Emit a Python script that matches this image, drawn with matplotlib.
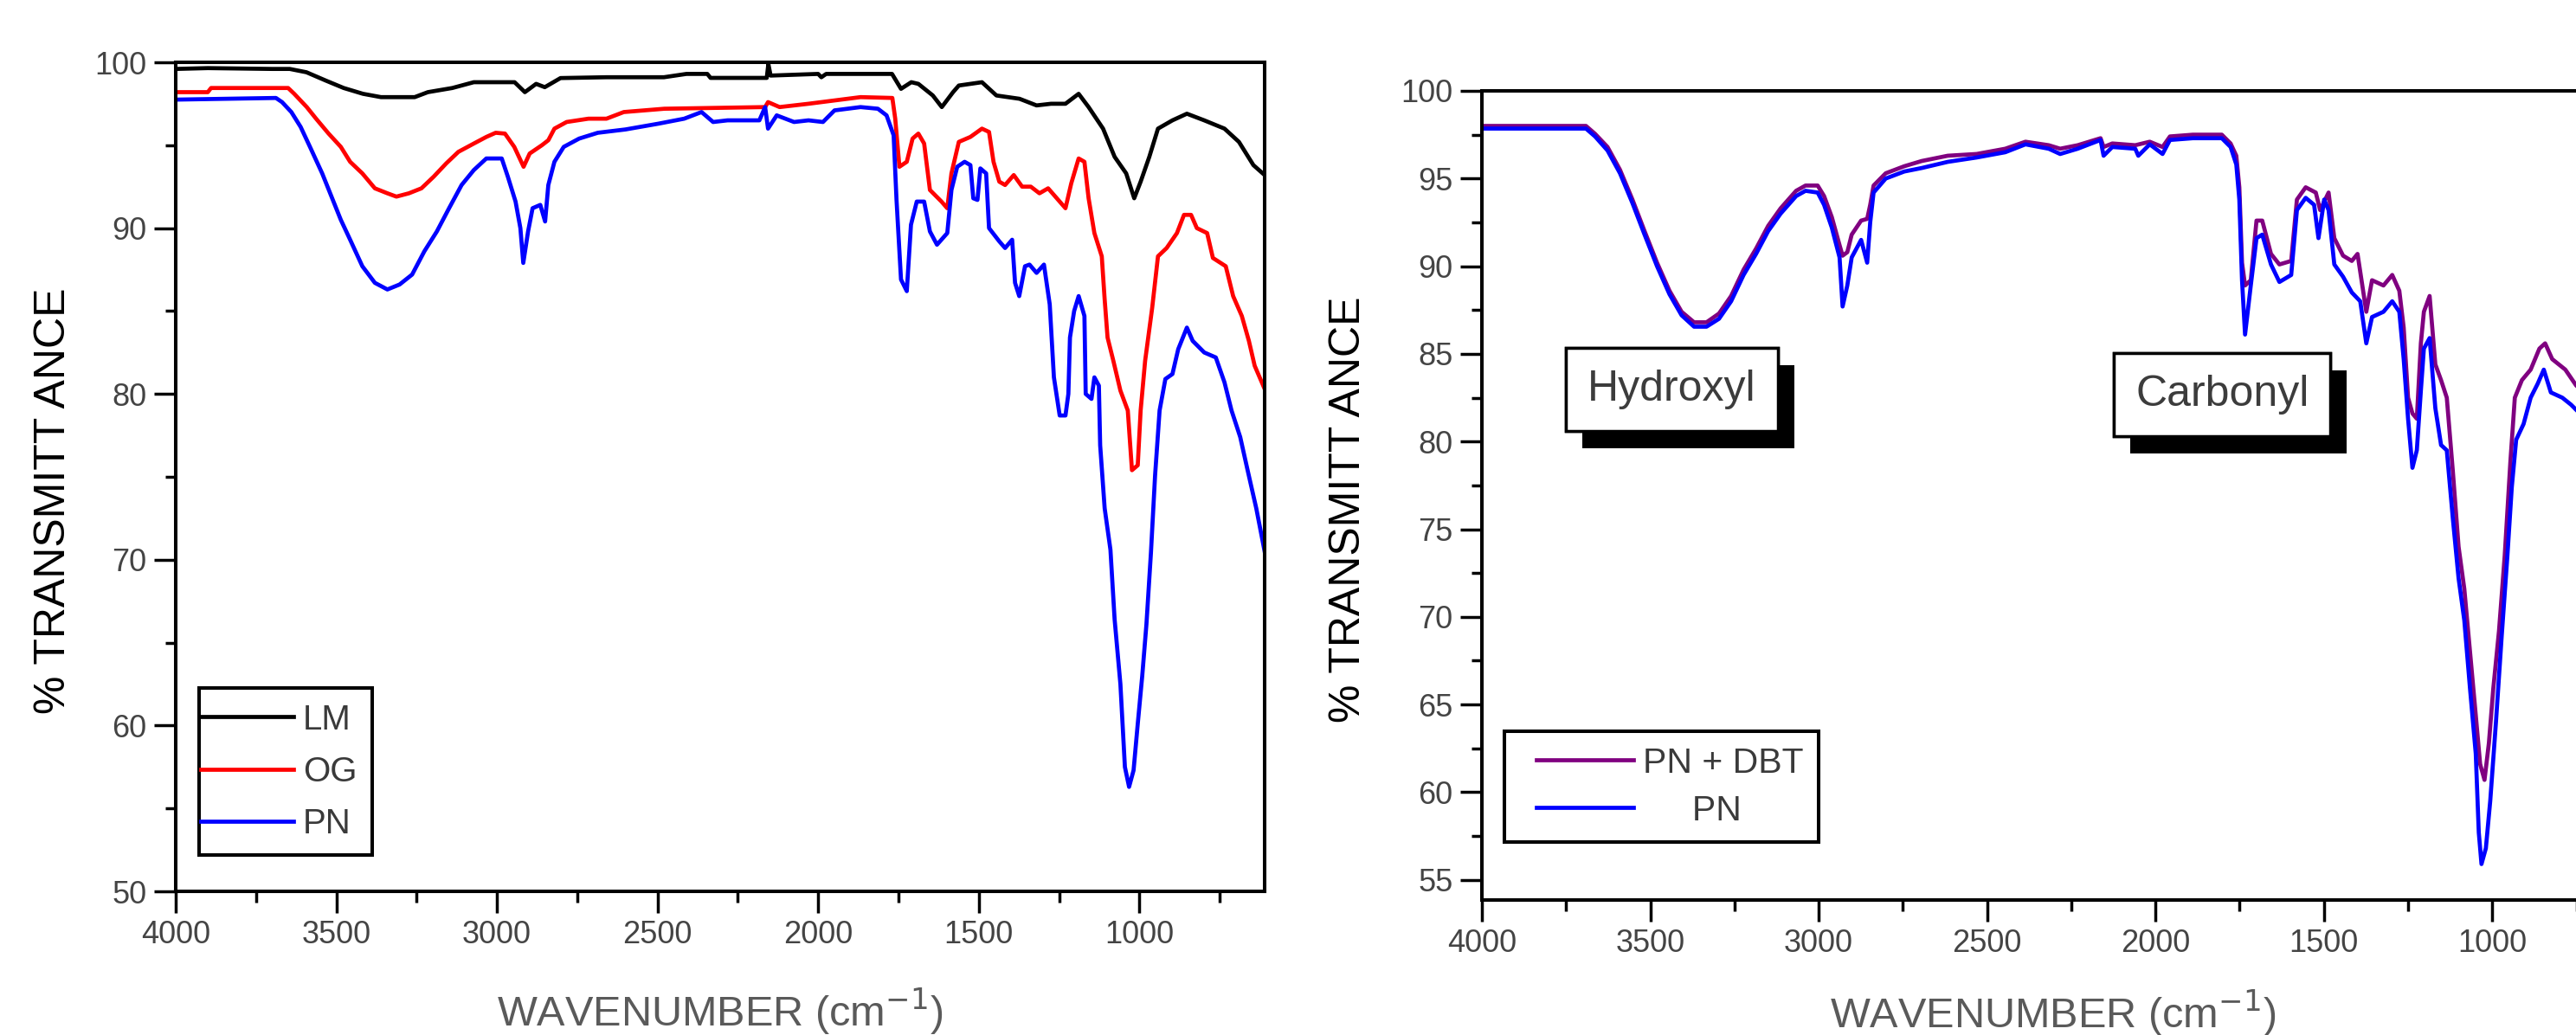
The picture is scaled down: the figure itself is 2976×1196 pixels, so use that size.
import matplotlib
matplotlib.use("Agg")
import matplotlib.pyplot as plt
import matplotlib.patheffects as pe
from matplotlib import font_manager
from matplotlib.legend_handler import HandlerLine2D
from matplotlib.ticker import MultipleLocator

# ---------------- spectra: left panel (LM, OG, PN) ----------------
wn_lm = [4000, 3900, 3700, 3645, 3593, 3533, 3477, 3417, 3361, 3256, 3215, 3139, 3072,
         2945, 2913, 2878, 2851, 2802, 2659, 2480, 2410, 2345, 2335, 2160, 2155, 2148,
         2000, 1990, 1975, 1770, 1742, 1710, 1688, 1643, 1615, 1580, 1562, 1526, 1490,
         1445, 1373, 1320, 1275, 1230, 1189, 1158, 1113, 1077, 1041, 1016, 996, 969,
         942, 897, 852, 798, 735, 690, 645, 610]
t_lm = [99.6, 99.65, 99.6, 99.6, 99.4, 98.9, 98.45, 98.1, 97.9, 97.9, 98.2, 98.45, 98.8,
        98.8, 98.2, 98.7, 98.5, 99.05, 99.1, 99.1, 99.3, 99.3, 99.06, 99.06, 99.9, 99.2,
        99.3, 99.1, 99.3, 99.3, 98.4, 98.8, 98.7, 98.0, 97.3, 98.2, 98.6, 98.7, 98.8,
        98.0, 97.8, 97.4, 97.5, 97.5, 98.1, 97.3, 96.0, 94.3, 93.3, 91.8, 92.8, 94.3,
        96.0, 96.5, 96.9, 96.5, 96.0, 95.2, 93.8, 93.2]

wn_og = [4000, 3900, 3890, 3650, 3631, 3592, 3563, 3524, 3486, 3457, 3419, 3380, 3341,
         3313, 3274, 3235, 3197, 3158, 3120, 3072, 3033, 3004, 2975, 2946, 2917, 2898,
         2860, 2840, 2821, 2783, 2715, 2659, 2605, 2479, 2165, 2156, 2120, 2030, 1868,
         1769, 1760, 1747, 1724, 1706, 1688, 1670, 1652, 1616, 1598, 1585, 1562, 1526,
         1490, 1468, 1454, 1436, 1418, 1391, 1365, 1338, 1311, 1284, 1257, 1230, 1212,
         1189, 1171, 1158, 1140, 1117, 1108, 1099, 1081, 1059, 1036, 1023, 1005, 996,
         982, 960, 942, 915, 883, 861, 839, 821, 789, 771, 731, 708, 681, 659, 641, 610]
t_og = [98.2, 98.2, 98.45, 98.45, 98.1, 97.3, 96.6, 95.7, 94.9, 94.0, 93.3, 92.4, 92.1,
        91.9, 92.1, 92.4, 93.1, 93.9, 94.6, 95.1, 95.5, 95.75, 95.7, 94.9, 93.7, 94.5,
        95.0, 95.3, 96.0, 96.4, 96.6, 96.6, 97.0, 97.2, 97.3, 97.6, 97.3, 97.5, 97.9,
        97.85, 96.6, 93.7, 94.0, 95.4, 95.7, 95.1, 92.3, 91.6, 91.2, 93.3, 95.2, 95.5,
        96.0, 95.8, 94.0, 92.8, 92.6, 93.2, 92.5, 92.5, 92.1, 92.4, 91.8, 91.2, 92.7,
        94.2, 94.0, 91.8, 89.7, 88.3, 85.7, 83.4, 82.0, 80.2, 79.0, 75.4, 75.7, 79.0,
        82.0, 85.2, 88.3, 88.8, 89.7, 90.8, 90.8, 90.0, 89.7, 88.2, 87.7, 85.9, 84.7,
        83.2, 81.7, 80.3]

wn_pn = [4000, 3688, 3669, 3640, 3611, 3582, 3544, 3515, 3486, 3457, 3419, 3380, 3341,
         3303, 3264, 3226, 3187, 3149, 3110, 3072, 3033, 2985, 2966, 2942, 2927, 2918,
         2903, 2889, 2865, 2850, 2840, 2821, 2792, 2744, 2686, 2600, 2497, 2417, 2363,
         2327, 2282, 2183, 2165, 2156, 2129, 2075, 2030, 1985, 1949, 1868, 1814, 1787,
         1765, 1756, 1742, 1724, 1711, 1693, 1670, 1652, 1630, 1598, 1585, 1567, 1544,
         1526, 1517, 1504, 1495, 1477, 1468, 1436, 1418, 1396, 1387, 1374, 1356, 1342,
         1320, 1297, 1279, 1266, 1248, 1230, 1221, 1216, 1203, 1189, 1171, 1167, 1149,
         1140, 1126, 1122, 1108, 1090, 1077, 1059, 1045, 1032, 1018, 1005, 991, 978,
         964, 951, 937, 919, 897, 879, 852, 834, 798, 762, 735, 713, 686, 663, 636, 610]
t_pn = [97.75, 97.85, 97.6, 97.0, 96.1, 94.9, 93.3, 91.9, 90.5, 89.3, 87.7, 86.7, 86.3,
        86.6, 87.2, 88.6, 89.8, 91.2, 92.6, 93.5, 94.2, 94.2, 93.1, 91.6, 90.0, 87.9,
        89.8, 91.2, 91.4, 90.4, 92.6, 94.0, 94.9, 95.4, 95.75, 95.95, 96.3, 96.6, 97.0,
        96.4, 96.5, 96.5, 97.3, 96.0, 96.8, 96.4, 96.5, 96.4, 97.1, 97.3, 97.2, 96.8,
        95.6, 91.7, 86.9, 86.2, 90.2, 91.6, 91.6, 89.8, 89.0, 89.7, 92.3, 93.7, 94.0,
        93.8, 91.8, 91.7, 93.6, 93.3, 90.0, 89.2, 88.8, 89.3, 86.7, 85.9, 87.7, 87.8,
        87.3, 87.8, 85.4, 81.0, 78.7, 78.7, 80.0, 83.4, 85.0, 85.9, 84.7, 80.0, 79.7,
        81.0, 80.5, 76.9, 73.1, 70.6, 66.4, 62.5, 57.5, 56.3, 57.3, 60.1, 63.0, 66.1,
        70.4, 75.1, 79.0, 80.9, 81.2, 82.7, 84.0, 83.2, 82.5, 82.2, 80.7, 79.0, 77.4,
        75.4, 73.1, 70.5]

# ---------------- spectra: right panel (PN + DBT, PN) ----------------
wn_dbt = [4000, 3691, 3664, 3627, 3590, 3553, 3517, 3480, 3443, 3407, 3370, 3333, 3296,
          3260, 3223, 3186, 3150, 3113, 3067, 3039, 3003, 2984, 2961, 2938, 2929, 2915,
          2902, 2874, 2856, 2847, 2837, 2801, 2746, 2694, 2617, 2531, 2446, 2386, 2317,
          2283, 2231, 2163, 2154, 2128, 2060, 2017, 1979, 1957, 1889, 1803, 1777, 1760,
          1751, 1743, 1734, 1717, 1700, 1683, 1657, 1632, 1597, 1580, 1554, 1524, 1511,
          1486, 1469, 1443, 1417, 1400, 1374, 1357, 1323, 1297, 1276, 1263, 1250, 1237,
          1224, 1212, 1203, 1186, 1169, 1152, 1135, 1117, 1100, 1083, 1066, 1049, 1036,
          1023, 1010, 997, 980, 963, 946, 933, 912, 886, 860, 843, 822, 783, 751, 740]
t_dbt = [98.0, 98.0, 97.55, 96.8, 95.5, 93.8, 92.0, 90.2, 88.6, 87.4, 86.8, 86.8, 87.3,
         88.3, 89.8, 91.0, 92.3, 93.3, 94.3, 94.6, 94.6, 94.0, 92.8, 91.2, 90.6, 90.8,
         91.8, 92.6, 92.7, 93.5, 94.6, 95.3, 95.7, 96.0, 96.3, 96.4, 96.7, 97.1, 96.9,
         96.7, 96.9, 97.3, 96.8, 97.0, 96.9, 97.1, 96.8, 97.4, 97.5, 97.5, 97.0, 96.3,
         94.5, 90.2, 88.9, 89.2, 92.6, 92.6, 90.7, 90.1, 90.3, 93.8, 94.5, 94.2, 93.2,
         94.2, 91.6, 90.6, 90.3, 90.7, 87.4, 89.2, 88.9, 89.5, 88.6, 86.5, 82.5, 81.6,
         81.3, 85.6, 87.4, 88.3, 84.4, 83.5, 82.5, 78.3, 74.0, 71.6, 68.0, 64.4, 61.6,
         60.7, 62.8, 65.9, 69.2, 73.5, 78.9, 82.5, 83.5, 84.1, 85.3, 85.6, 84.7, 84.1,
         83.2, 83.0]

wn_pn2 = [4000, 3691, 3664, 3627, 3590, 3553, 3517, 3480, 3443, 3407, 3370, 3333, 3296,
          3260, 3223, 3186, 3150, 3113, 3067, 3039, 3003, 2984, 2961, 2938, 2929, 2915,
          2902, 2874, 2856, 2847, 2837, 2801, 2746, 2694, 2617, 2531, 2446, 2386, 2317,
          2283, 2231, 2163, 2154, 2128, 2060, 2051, 2017, 1979, 1957, 1889, 1803, 1777,
          1760, 1751, 1743, 1734, 1717, 1700, 1683, 1657, 1632, 1597, 1580, 1554, 1529,
          1516, 1499, 1486, 1469, 1443, 1417, 1392, 1374, 1357, 1323, 1297, 1276, 1263,
          1250, 1237, 1224, 1212, 1203, 1186, 1169, 1152, 1135, 1117, 1100, 1083, 1066,
          1049, 1040, 1032, 1019, 1006, 989, 972, 955, 942, 929, 907, 886, 865, 847, 826,
          792, 766, 740]
t_pn2 = [97.85, 97.85, 97.4, 96.6, 95.3, 93.6, 91.8, 90.0, 88.4, 87.2, 86.55, 86.55, 87.0,
         88.0, 89.5, 90.7, 92.0, 93.0, 94.0, 94.3, 94.2, 93.5, 92.2, 90.5, 87.7, 88.9,
         90.5, 91.5, 90.2, 92.5, 94.2, 95.0, 95.4, 95.6, 95.95, 96.2, 96.5, 96.95, 96.7,
         96.4, 96.7, 97.2, 96.3, 96.8, 96.7, 96.3, 96.95, 96.4, 97.2, 97.3, 97.3, 96.8,
         95.8, 93.8, 89.2, 86.1, 88.9, 91.6, 91.8, 90.1, 89.1, 89.5, 93.2, 93.9, 93.5,
         91.6, 93.8, 93.2, 90.1, 89.4, 88.5, 88.0, 85.6, 87.1, 87.4, 88.0, 87.4, 84.7,
         81.3, 78.5, 79.5, 82.9, 85.3, 85.9, 81.9, 79.8, 79.5, 75.6, 72.2, 69.8, 65.9,
         62.2, 57.7, 55.9, 56.8, 59.5, 64.0, 68.9, 73.5, 77.4, 80.1, 81.0, 82.5, 83.3,
         84.1, 82.8, 82.5, 82.1, 81.6]

x_ticks = [4000, 3500, 3000, 2500, 2000, 1500, 1000]
left_yticks = [50, 60, 70, 80, 90, 100]
right_yticks = [55, 60, 65, 70, 75, 80, 85, 90, 95, 100]
peak_labels = ["Hydroxyl", "Carbonyl"]

# ---------------- fonts ----------------
installed = {f.name for f in font_manager.fontManager.ttflist}
main_font = "Liberation Sans" if "Liberation Sans" in installed else "DejaVu Sans"
tick_font = "Liberation Sans Narrow" if "Liberation Sans Narrow" in installed else main_font
plt.rcParams["font.family"] = [main_font, "DejaVu Sans"]

W, H = 2976, 1196
fig = plt.figure(figsize=(W / 100, H / 100), dpi=100)
fig.patch.set_facecolor("white")

ax1 = fig.add_axes([203 / W, 1 - 1030 / H, (1461 - 203) / W, (1030 - 72) / H])
ax2 = fig.add_axes([1712 / W, 1 - 1040 / H, (3031 - 1712) / W, (1040 - 105) / H])

LW = 3.4
l_lm, = ax1.plot(wn_lm, t_lm, color="black", lw=LW, label="LM")
l_og, = ax1.plot(wn_og, t_og, color="#ff0000", lw=LW, label="OG")
l_pn, = ax1.plot(wn_pn, t_pn, color="#0000ff", lw=LW, label="PN")

l_dbt, = ax2.plot(wn_dbt, t_dbt, color="#800080", lw=LW, label="PN + DBT")
l_pn2, = ax2.plot(wn_pn2, t_pn2, color="#0000ff", lw=LW, label="     PN")

ax1.set_xlim(4000, 610)
ax1.set_ylim(50, 100)
ax2.set_xlim(4000, 610)
ax2.set_ylim(53.85, 100)

ax1.set_yticks(left_yticks)
ax1.yaxis.set_minor_locator(MultipleLocator(5))
ax2.set_yticks(right_yticks)
ax2.yaxis.set_minor_locator(MultipleLocator(2.5))

for ax in (ax1, ax2):
    ax.set_xticks(x_ticks)
    ax.xaxis.set_minor_locator(MultipleLocator(250))
    for s in ax.spines.values():
        s.set_linewidth(2.9)
        s.set_color("black")
    ax.tick_params(which="major", direction="out", length=18, width=2.5,
                   color="black", labelsize=26, labelcolor="#444444", pad=6,
                   top=False, right=False)
    ax.tick_params(which="minor", direction="out", length=9, width=2.5,
                   color="black", top=False, right=False)
    for lab in ax.get_xticklabels() + ax.get_yticklabels():
        lab.set_fontfamily(tick_font)
    ax.set_ylabel("% TRANSMITT ANCE", fontsize=36, color="black")
    ax.set_xlabel("WAVENUMBER (cm$^{-1}$)", fontsize=35, color="#5a5a5a")

ax1.yaxis.set_label_coords(-0.094, 0.471)
ax2.yaxis.set_label_coords(-0.099, 0.483)
ax1.xaxis.set_label_coords(0.5, -0.115)
ax2.xaxis.set_label_coords(0.5, -0.109)

# legends: line samples start near the frame on the left panel, inset on the right
h_left = HandlerLine2D(xpad=-0.38)
leg1 = ax1.legend(handles=[l_lm, l_og, l_pn], loc="lower left",
                  bbox_to_anchor=(0.0215, 0.0437), fontsize=29,
                  frameon=True, fancybox=False, edgecolor="black", framealpha=1,
                  borderpad=0.43, handlelength=2.28, handletextpad=0.27,
                  labelspacing=0.55, borderaxespad=0,
                  handler_map={l_lm: h_left, l_og: h_left, l_pn: h_left})
leg1.get_frame().set_linewidth(2.9)
for t in leg1.get_texts():
    t.set_color("#3a3a3a")

h_right = HandlerLine2D(xpad=0.49)
leg2 = ax2.legend(handles=[l_dbt, l_pn2], loc="lower left",
                  bbox_to_anchor=(0.0197, 0.0717), fontsize=29.5,
                  frameon=True, fancybox=False, edgecolor="black", framealpha=1,
                  borderpad=0.42, handlelength=3.22, handletextpad=0.27,
                  labelspacing=0.42, borderaxespad=0,
                  handler_map={l_dbt: h_right, l_pn2: h_right})
leg2.get_frame().set_linewidth(2.9)
for t in leg2.get_texts():
    t.set_color("#3a3a3a")

# functional-group callouts with drop shadow
for label, (x, y) in zip(peak_labels, [(3436, 82.95), (1802, 82.67)]):
    txt = ax2.text(x, y, label, ha="center", va="center", fontsize=36, color="#3c3c3c",
                   bbox=dict(boxstyle="square,pad=0.5", fc="white", ec="black", lw=2.5),
                   zorder=5)
    txt.get_bbox_patch().set_path_effects([
        pe.withSimplePatchShadow(offset=(13.5, -14), shadow_rgbFace="black", alpha=1.0),
        pe.Normal()])

fig.savefig("out.png", dpi=100)
